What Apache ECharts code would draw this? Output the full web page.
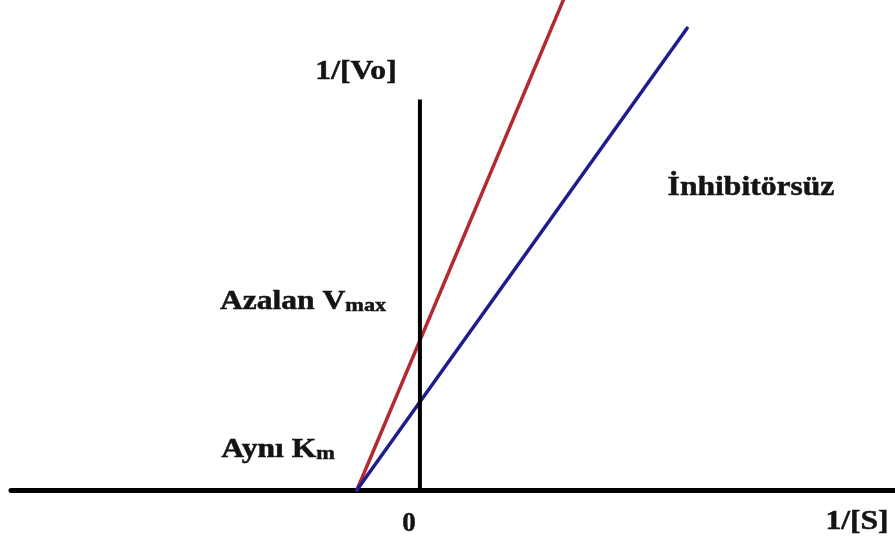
<!DOCTYPE html>
<html>
<head>
<meta charset="utf-8">
<script src="https://cdn.jsdelivr.net/npm/echarts@6/dist/echarts.min.js"></script>
<style>
  html, body { margin: 0; padding: 0; background: #fff; }
  #chart { width: 895px; height: 543px; }
</style>
</head>
<body>
<div id="chart"></div>
<script>
// Lineweaver–Burk plot: non-competitive inhibition (same Km, lower Vmax)
const xTickValues = [0];                         // labelled tick on 1/[S]
const inhibitedLine = [[-1, 0], [2.3, 5.61]];    // with inhibitor: higher 1/Vmax
const uninhibitedLine = [[-1, 0], [4.24, 5.25]]; // without inhibitor
const ordinateAxis = [[0, 0], [0, 4.44]];        // drawn 1/[Vo] axis

const FONT = '"Liberation Serif", "DejaVu Serif", serif';
const TEXT_COLOR = '#141414';
const SIZE = 27;

const chart = echarts.init(document.getElementById('chart'), null, { renderer: 'canvas' });

function label(text, x, y, rich) {
  return {
    type: 'text',
    x: x, y: y,
    scaleX: 1.17,
    style: {
      text: text,
      font: 'bold ' + SIZE + 'px ' + FONT,
      fill: TEXT_COLOR,
      stroke: TEXT_COLOR,
      lineWidth: 0.5,
      align: 'center',
      verticalAlign: 'middle',
      rich: rich
    },
    z: 10
  };
}

const subRich = {
  b: { fontFamily: FONT, fontWeight: 'bold', fontSize: SIZE, color: TEXT_COLOR },
  s: { fontFamily: FONT, fontWeight: 'bold', fontSize: 19, color: TEXT_COLOR, padding: [9, 0, 0, 0] }
};

chart.setOption({
  animation: false,
  backgroundColor: '#ffffff',
  grid: { left: 11, right: 0, top: 0, bottom: 53 },
  xAxis: {
    type: 'value',
    min: -6.49,
    max: 7.54,
    axisLine: { show: true, onZero: true, lineStyle: { color: '#000', width: 5 } },
    axisTick: { show: false },
    splitLine: { show: false },
    axisLabel: {
      customValues: xTickValues,
      margin: 21,
      padding: [0, 22, 0, 0],
      fontFamily: FONT,
      fontWeight: 'bold',
      fontSize: SIZE,
      color: TEXT_COLOR,
      textBorderColor: TEXT_COLOR,
      textBorderWidth: 0.5
    }
  },
  yAxis: {
    type: 'value',
    min: 0,
    max: 5.57,
    axisLine: { show: false },
    axisTick: { show: false },
    splitLine: { show: false },
    axisLabel: { show: false }
  },
  series: [
    {
      name: 'İnhibitörlü',
      type: 'line',
      data: inhibitedLine,
      symbol: 'none',
      clip: true,
      lineStyle: { color: '#b52a30', width: 3.5, cap: 'round' },
      z: 3
    },
    {
      name: 'İnhibitörsüz',
      type: 'line',
      data: uninhibitedLine,
      symbol: 'none',
      clip: true,
      lineStyle: { color: '#1e1c8e', width: 3.5, cap: 'round' },
      z: 3
    },
    {
      name: '1/[Vo]',
      type: 'line',
      data: ordinateAxis,
      symbol: 'none',
      lineStyle: { color: '#000', width: 4, cap: 'butt' },
      z: 4
    }
  ],
  graphic: [
    label('1/[Vo]', 356, 72),
    label('İnhibitörsüz', 751, 188),
    label('{b|Azalan V}{s|max}', 303, 302, subRich),
    label('{b|Aynı K}{s|m}', 278, 450, subRich),
    label('1/[S]', 857, 522)
  ]
});
</script>
</body>
</html>
